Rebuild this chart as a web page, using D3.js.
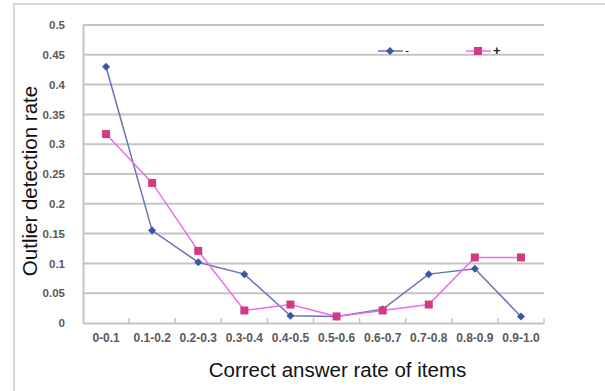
<!DOCTYPE html>
<html><head><meta charset="utf-8">
<script src="https://cdn.jsdelivr.net/npm/d3@7/dist/d3.min.js"></script>
<style>body{margin:0;background:#fff}svg{display:block}</style>
</head><body>
<svg id="c" width="605" height="391"></svg>
<script>
const categories = ["0-0.1","0.1-0.2","0.2-0.3","0.3-0.4","0.4-0.5","0.5-0.6","0.6-0.7","0.7-0.8","0.8-0.9","0.9-1.0"];
const minusValues = [0.43,0.155,0.102,0.082,0.012,0.011,0.023,0.082,0.091,0.011];
const plusValues = [0.317,0.235,0.121,0.021,0.031,0.011,0.021,0.031,0.11,0.11];
const yTicks = [0,0.05,0.1,0.15,0.2,0.25,0.3,0.35,0.4,0.45,0.5];
const seriesNames = ["-","+"];

(function(){
const svg = d3.select("#c");
const pL=83,pR=544,pT=25,pB=323;
const FF="Liberation Sans, Arial, sans-serif";
svg.append("rect").attr("x",14).attr("y",4).attr("width",600).attr("height",400)
  .attr("fill","#fff").attr("stroke","#d8d8d8").attr("stroke-width",2);

const x = d3.scaleBand().domain(categories).range([pL,pR]);
const y = d3.scaleLinear().domain([0,0.5]).range([pB,pT]);

// gridlines
svg.append("g").selectAll("line").data(yTicks.filter(d=>d>0)).join("line")
  .attr("x1",pL).attr("x2",pR).attr("y1",d=>y(d)).attr("y2",d=>y(d))
  .attr("stroke","#c4c4c4").attr("stroke-width",2);

// y axis
const ya = svg.append("g").attr("transform",`translate(${pL},0)`)
  .call(d3.axisLeft(y).tickValues(yTicks).tickSize(0).tickPadding(18).tickFormat(d=>String(d)));
ya.select(".domain").attr("stroke","#c4c4c4").attr("stroke-width",2);
ya.selectAll("text").attr("font-family",FF).attr("font-size",11.5)
  .attr("font-weight","bold").attr("fill","#5a5a5a");

// x axis
const xa = svg.append("g").attr("transform",`translate(0,${pB})`)
  .call(d3.axisBottom(x).tickSize(0).tickPadding(10));
xa.select(".domain").attr("stroke","#c4c4c4").attr("stroke-width",2);
xa.selectAll("text").attr("font-family",FF).attr("font-size",12)
  .attr("font-weight","bold").attr("fill","#5a5a5a");
// tick marks at category boundaries
svg.append("g").selectAll("line").data(categories).join("line")
  .attr("x1",d=>x(d)+x.bandwidth()).attr("x2",d=>x(d)+x.bandwidth())
  .attr("y1",pB-5).attr("y2",pB).attr("stroke","#c4c4c4").attr("stroke-width",1.5);

const cx = d=>x(d)+x.bandwidth()/2;
const line = d3.line().x((d,i)=>cx(categories[i])).y(d=>y(d));
const diamond = "M0,-4L4,0L0,4L-4,0Z";

// minus series
svg.append("path").datum(minusValues).attr("d",line).attr("fill","none")
  .attr("stroke","#6f70b4").attr("stroke-width",1.5);
svg.append("g").selectAll("path").data(minusValues).join("path")
  .attr("d",diamond).attr("transform",(d,i)=>`translate(${cx(categories[i])},${y(d)})`)
  .attr("fill","#3b56a8");

// plus series
svg.append("path").datum(plusValues).attr("d",line).attr("fill","none")
  .attr("stroke","#f06af0").attr("stroke-width",1.5);
svg.append("g").selectAll("rect").data(plusValues).join("rect")
  .attr("x",(d,i)=>cx(categories[i])-4).attr("y",d=>y(d)-4).attr("width",8).attr("height",8)
  .attr("fill","#d23a84");

// legend
const lg = svg.append("g");
lg.append("line").attr("x1",378).attr("x2",403).attr("y1",51).attr("y2",51).attr("stroke","#6f70b4").attr("stroke-width",1.5);
lg.append("path").attr("d",diamond).attr("transform","translate(390,51)").attr("fill","#3b56a8");
lg.append("text").attr("x",405).attr("y",55).text(seriesNames[0]).attr("font-family",FF).attr("font-size",12).attr("fill","#222");
lg.append("line").attr("x1",466).attr("x2",491).attr("y1",51).attr("y2",51).attr("stroke","#f06af0").attr("stroke-width",1.5);
lg.append("rect").attr("x",474).attr("y",47).attr("width",8).attr("height",8).attr("fill","#d23a84");
lg.append("text").attr("x",493).attr("y",55).text(seriesNames[1]).attr("font-family",FF).attr("font-size",13).attr("font-weight","bold").attr("fill","#222");

// titles
svg.append("text").attr("transform","translate(37,181) rotate(-90)").attr("text-anchor","middle")
  .attr("font-family",FF).attr("font-size",20.5).attr("fill","#111")
  .text("Outlier detection rate");
svg.append("text").attr("x",337.5).attr("y",377).attr("text-anchor","middle")
  .attr("font-family",FF).attr("font-size",20.5).attr("fill","#111")
  .text("Correct answer rate of items");
})();
</script>
</body></html>
